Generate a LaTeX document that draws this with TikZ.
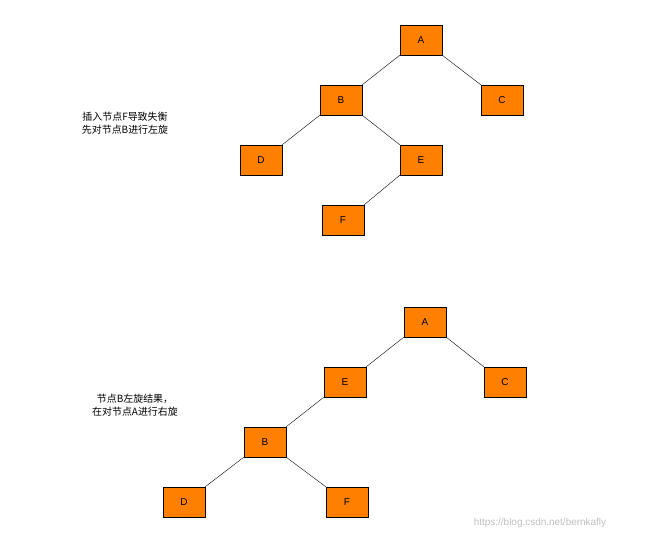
\documentclass[tikz,border=0pt]{standalone}
\usepackage{fontspec}
\setmainfont{Liberation Sans}
\newfontfamily\cjk{Noto Sans CJK SC}
\definecolor{org}{HTML}{FF8000}
\begin{document}
\begin{tikzpicture}[x=1bp,y=-1bp,
  box/.style={draw=black,fill=org,minimum width=42bp,minimum height=30bp,inner sep=0pt,font=\fontsize{10}{12}\selectfont},
  lbl/.style={font=\cjk\fontsize{10}{13}\selectfont,align=center}]
\useasboundingbox (0,0) rectangle (654,540);
\node[box] (A1) at (421,40) {A};
\node[box] (C1) at (502,100) {C};
\node[box] (B1) at (341,100) {B};
\node[box] (D1) at (261,160) {D};
\node[box] (E1) at (421,160) {E};
\node[box] (F1) at (343,220) {F};
\draw (A1.south west) -- (B1.north east);
\draw (A1.south east) -- (C1.north west);
\draw (B1.south west) -- (D1.north east);
\draw (B1.south east) -- (E1.north west);
\draw (E1.south west) -- (F1.north east);
\node[lbl] (t1) at (125,123) {插入节点F导致失衡\\先对节点B进行左旋};
\node[box] (A2) at (425,322) {A};
\node[box] (C2) at (505,382) {C};
\node[box] (E2) at (345,382) {E};
\node[box] (B2) at (265,442) {B};
\node[box] (D2) at (184,502) {D};
\node[box] (F2) at (347,502) {F};
\draw (A2.south west) -- (E2.north east);
\draw (A2.south east) -- (C2.north west);
\draw (E2.south west) -- (B2.north east);
\draw (B2.south west) -- (D2.north east);
\draw (B2.south east) -- (F2.north west);
\node[lbl] (t2) at (135,405) {节点B左旋结果，\\在对节点A进行右旋};
\node[font=\fontsize{10}{12}\selectfont,text=black!25] (w) at (540,523) {https://blog.csdn.net/bernkafly};
\end{tikzpicture}
\end{document}
